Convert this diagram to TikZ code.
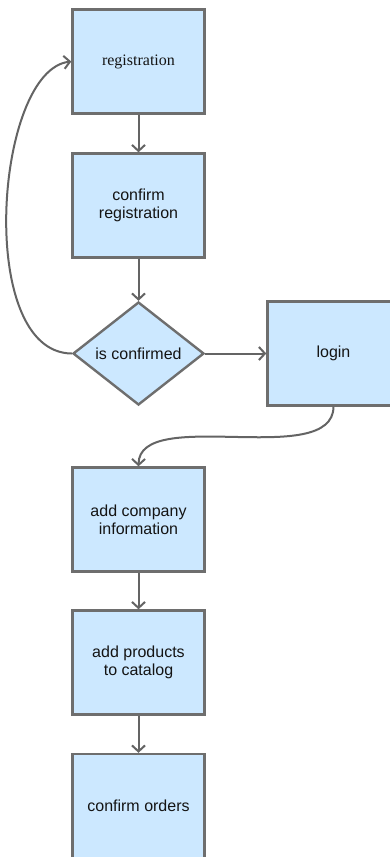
\documentclass[tikz,border=0pt]{standalone}
\usepackage{fontspec}
\setmainfont{Liberation Sans}
\newfontfamily\timesfont{Liberation Serif}
\usetikzlibrary{shapes.geometric,arrows.meta}
\definecolor{boxfill}{RGB}{204,232,255}
\definecolor{boxline}{RGB}{110,110,110}
\definecolor{conn}{RGB}{100,100,100}
\definecolor{txt}{RGB}{20,20,20}
\begin{document}
\begin{tikzpicture}[x=1pt,y=1pt,
  stepbox/.style={draw=boxline,line width=2.4pt,fill=boxfill,minimum width=132pt,minimum height=104pt,inner sep=0pt,align=center,text=txt,font=\fontsize{16}{18}\selectfont},
  decide/.style={diamond,draw=boxline,line width=2.4pt,fill=boxfill,minimum width=131pt,minimum height=103pt,inner sep=0pt,text=txt,font=\fontsize{16}{18}\selectfont},
  conarrow/.style={draw=conn,line width=2pt,-{Straight Barb[length=6pt,width=13pt,line width=2pt]}}]
\useasboundingbox (0,0) rectangle (390,-857);
\clip (0,0) rectangle (390,-857);
\fill[white] (0,0) rectangle (390,-857);
\node[stepbox,font=\timesfont\fontsize{16}{18}\selectfont] (reg) at (138.5,-61.5) {registration};
\node[stepbox] (confreg) at (138.5,-205.5) {confirm\\registration};
\node[decide] (isconf) at (138.5,-353.5) {is confirmed};
\node[stepbox] (login) at (333.5,-353.5) {login};
\node[stepbox] (addcomp) at (138.5,-519.5) {add company\\information};
\node[stepbox] (addprod) at (138.5,-662.5) {add products\\to catalog};
\node[stepbox] (conford) at (138.5,-806) {confirm orders};
\draw[conarrow] (reg.south) -- (confreg.north);
\draw[conarrow] (confreg.south) -- (isconf.north);
\draw[conarrow] (isconf.east) -- (login.west);
\draw[conarrow] (addcomp.south) -- (addprod.north);
\draw[conarrow] (addprod.south) -- (conford.north);
\draw[conarrow] (isconf.west) .. controls (-25,-353) and (-5,-70) .. (reg.west);
\draw[conarrow] (login.south) .. controls (333,-470) and (139,-405) .. (addcomp.north);
\end{tikzpicture}
\end{document}
